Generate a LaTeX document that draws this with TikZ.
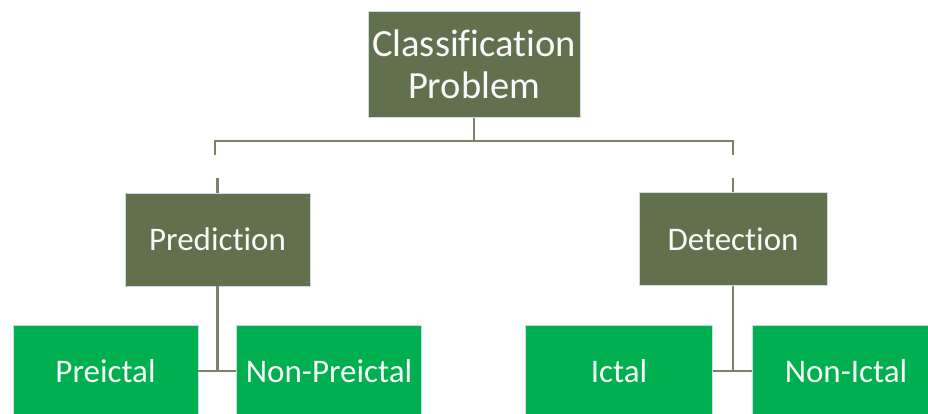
\documentclass[tikz,border=0pt]{standalone}
\usepackage{fontspec}
\setmainfont[Ligatures=NoCommon]{Carlito}
\usetikzlibrary{calc}
\definecolor{olivebox}{HTML}{63704E}
\definecolor{greenbox}{HTML}{00B050}
\definecolor{edgeblue}{HTML}{C8DCEA}
\definecolor{linkcol}{HTML}{7E8068}
\begin{document}
\begin{tikzpicture}[x=1pt,y=-1pt,
  box/.style={draw=edgeblue, line width=0.8pt, text=white!95!gray, inner sep=0pt, align=center},
  obox/.style={box, fill=olivebox, font=\fontsize{33}{38}\selectfont},
  gbox/.style={box, fill=greenbox, font=\fontsize{33}{38}\selectfont},
  link/.style={draw=linkcol, line width=2.2pt}]
\clip (0,0) rectangle (928,413);
\fill[white] (0,0) rectangle (928,413);
\node[obox, minimum width=212pt, minimum height=106pt, font=\fontsize{38.5}{42}\selectfont] (top) at (474,64.5) {Classification\\Problem};
\node[obox, minimum width=185pt, minimum height=93pt] (pred) at (217.5,239.5) {Prediction};
\node[obox, minimum width=188pt, minimum height=93pt] (det) at (733,239) {Detection};
\node[gbox, minimum width=185pt, minimum height=92pt] (pre) at (105.5,371) {Preictal};
\node[gbox, minimum width=185pt, minimum height=92pt] (npre) at (329,371) {Non-Preictal};
\node[gbox, minimum width=187pt, minimum height=92pt] (ict) at (619,371) {Ictal};
\node[gbox, minimum width=188pt, minimum height=92pt] (nict) at (846,371) {Non-Ictal};
\coordinate (busL) at (215,141);
\coordinate (busR) at (733,141);
\draw[link] (top.south) -- (top.south |- busL);
\draw[link] ($(busL)+(0,14)$) -- (busL) -- (busR) -- ($(busR)+(0,14)$);
\draw[link] (pred.north) -- ++(0,-15);
\draw[link] (det.north) -- ++(0,-14);
\draw[link] (pred.south) -- (pred.south |- pre.east);
\draw[link] (pre.east) -- (npre.west);
\draw[link] (det.south) -- (det.south |- ict.east);
\draw[link] (ict.east) -- (nict.west);
\end{tikzpicture}
\end{document}
